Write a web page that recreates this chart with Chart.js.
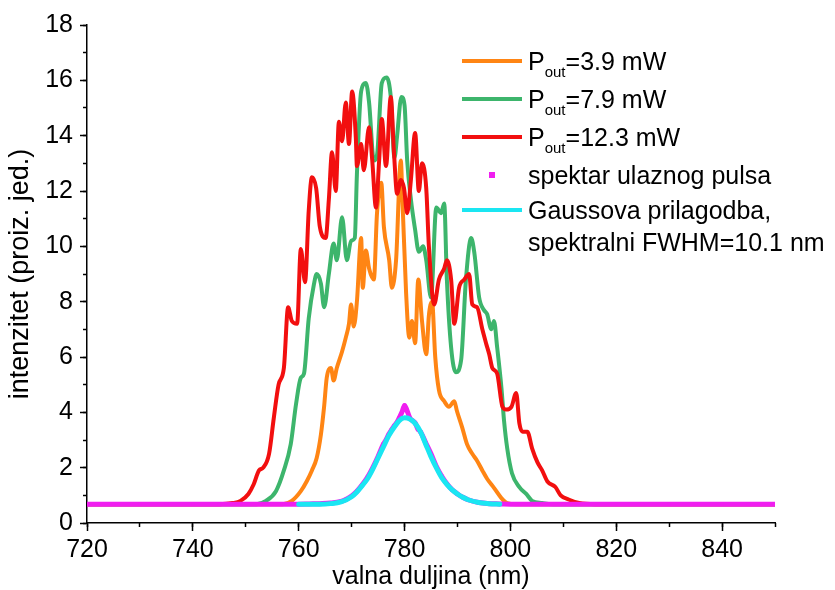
<!DOCTYPE html>
<html>
<head>
<meta charset="utf-8">
<script src="https://cdn.jsdelivr.net/npm/chart.js@4.4.1/dist/chart.umd.min.js"></script>
<style>
  html, body { margin: 0; padding: 0; background: #fff; }
  #wrap { position: relative; width: 835px; height: 590px; overflow: hidden; }
  #legend { position: absolute; left: 462px; top: 42px; font-family: 'Liberation Sans', Arial, sans-serif; font-size: 25px; color: #000; }
  .item { position: relative; padding-left: 66px; line-height: 38px; height: 38px; white-space: nowrap; }
  .item.multi { line-height: 32px; height: 64px; }
  .sw { position: absolute; left: 0; }
  sub { font-size: 15px; vertical-align: -7px; line-height: 0; }
</style>
</head>
<body>
<div id="wrap">
  <canvas id="c" width="835" height="590"></canvas>
  <div id="legend"></div>
</div>
<script>
// ---- data (wavelength nm, intensity a.u.) ----
const seriesLabels = ['P_out=3.9 mW', 'P_out=7.9 mW', 'P_out=12.3 mW', 'spektar ulaznog pulsa', 'Gaussova prilagodba,\nspektralni FWHM=10.1 nm'];
const xTickValues = [720, 740, 760, 780, 800, 820, 840];
const yTickValues = [0, 2, 4, 6, 8, 10, 12, 14, 16, 18];

const orange = [[720,0.68],[757,0.68],[758.7,0.8],[760.4,1.15],[761.5,1.5],[762.5,1.9],[763.4,2.35],[764.2,3.2],[764.8,4.2],[765.3,5.25],[766.1,5.6],[766.6,5.15],[767.2,5.6],[768.2,6.2],[768.9,6.7],[769.5,7.2],[769.9,7.9],[770.4,7.1],[771.0,8.0],[771.8,10.3],[772.1,8.5],[772.7,9.85],[773.3,9.2],[774.2,8.8],[774.8,11.2],[775.6,12.3],[776.1,10.7],[777.1,9.5],[777.6,8.5],[778.4,9.5],[779.3,13.1],[779.6,11.7],[780.3,8.3],[780.9,6.7],[781.4,7.3],[782.0,6.5],[782.6,8.8],[783.3,7.3],[784.1,6.1],[784.6,7.5],[785.2,8.0],[785.8,6.0],[786.5,4.8],[787.5,4.4],[788.4,4.2],[789.4,4.4],[789.9,4.05],[790.9,3.45],[791.8,2.85],[792.8,2.5],[793.7,2.25],[794.7,1.9],[795.6,1.6],[796.9,1.27],[798.3,0.9],[799.4,0.72],[801,0.68],[850,0.68]];

const green = [[720,0.68],[752,0.68],[753.8,0.8],[755.7,1.15],[757.2,1.9],[758.5,2.85],[759.5,4.3],[760.4,5.25],[761.0,5.4],[761.9,7.4],[762.9,8.65],[763.4,9.0],[764.2,8.65],[764.8,7.8],[765.7,9.0],[766.6,10.1],[767.2,9.5],[768.2,11.05],[769.1,9.5],[769.9,10.2],[770.6,10.3],[771.0,12.6],[771.8,15.6],[772.7,15.9],[773.3,15.2],[774.2,13.1],[774.8,13.3],[775.7,15.9],[776.6,16.1],[777.4,15.4],[778.1,13.2],[778.6,14.0],[779.4,15.4],[780.0,15.1],[780.5,13.1],[781.2,11.7],[782.0,10.6],[782.7,9.8],[783.5,10.0],[784.1,9.5],[785.0,8.15],[786.0,11.4],[786.9,11.2],[787.5,11.55],[788.0,8.8],[788.8,6.35],[789.7,5.45],[790.7,5.9],[791.6,8.8],[792.6,10.3],[793.2,9.75],[794.1,8.15],[795.0,7.7],[795.6,7.55],[796.4,7.0],[796.9,7.3],[797.5,6.35],[798.3,4.9],[798.8,3.7],[799.4,2.7],[800.3,1.8],[801.7,1.3],[803.0,1.05],[804.1,0.8],[806.0,0.72],[808,0.68],[850,0.68]];

const red = [[720,0.68],[745,0.68],[747.5,0.72],[749,0.8],[750.5,1.05],[751.5,1.4],[752.5,1.9],[753.3,2.0],[754.4,2.5],[755.3,3.8],[756.2,5.0],[757.2,5.6],[758.0,7.8],[758.7,7.3],[759.7,7.2],[760.4,9.9],[761.2,8.7],[761.9,11.3],[762.5,12.5],[763.3,12.1],[764.0,10.7],[765.1,10.3],[765.7,11.7],[766.3,13.4],[767.0,12.0],[767.6,14.5],[768.2,13.8],[768.9,15.2],[769.5,13.7],[770.1,15.6],[770.8,13.9],[771.0,12.9],[771.8,13.7],[772.3,12.75],[773.3,14.3],[773.9,13.1],[774.6,11.4],[775.2,13.1],[775.7,14.6],[776.5,12.9],[777.4,15.4],[778.0,13.4],[778.6,11.9],[779.3,12.4],[779.9,12.1],[780.5,11.2],[781.2,12.4],[782.0,14.1],[782.7,12.0],[783.3,13.0],[784.1,12.1],[784.6,10.0],[785.6,7.9],[786.5,8.8],[787.5,9.2],[788.0,9.5],[788.8,8.8],[789.4,7.2],[790.3,8.5],[791.3,8.8],[792.2,9.0],[792.8,7.9],[793.7,7.8],[794.7,7.0],[795.4,6.5],[796.0,6.1],[796.6,5.6],[797.5,5.4],[798.5,4.2],[799.2,4.1],[800.2,4.2],[801.1,4.7],[801.7,3.6],[802.3,3.3],[803.2,3.3],[804.1,2.7],[805.1,2.2],[806.0,1.9],[807.0,1.5],[808.5,1.3],[809.5,1.0],[811,0.85],[813,0.72],[816,0.68],[850,0.68]];

const inputPulse = [[720,0.68],[725,0.68],[730,0.68],[735,0.68],[740,0.68],[745,0.68],[750,0.68],[755,0.68],[760,0.68],[762,0.69],[764,0.7],[766,0.72],[768,0.78],[769,0.86],[770,0.98],[771,1.15],[772,1.38],[773,1.65],[774,2.0],[775,2.4],[776,2.85],[776.5,3.0],[777,3.2],[777.5,3.35],[778,3.5],[778.5,3.62],[779,3.8],[779.5,4.0],[780,4.25],[780.5,4.05],[781,3.8],[781.5,3.7],[782,3.62],[782.5,3.4],[783,3.3],[784,2.9],[785,2.5],[786,2.05],[787,1.7],[788,1.42],[789,1.2],[790,1.05],[791,0.93],[792,0.84],[794,0.74],[796,0.7],[798,0.69],[800,0.68],[805,0.68],[810,0.68],[815,0.68],[820,0.68],[825,0.68],[830,0.68],[835,0.68],[840,0.68],[845,0.68],[850,0.68]];

const gaussFit = [[760,0.68],[764,0.68],[766,0.7],[768,0.76],[770,0.95],[771,1.12],[772,1.35],[773,1.6],[774,1.95],[775,2.35],[776,2.75],[777,3.15],[778,3.45],[779,3.7],[780,3.8],[781,3.76],[782,3.6],[783,3.3],[784,2.85],[785,2.4],[786,2.0],[787,1.65],[788,1.4],[789,1.2],[790,1.05],[791,0.93],[792,0.84],[794,0.74],[796,0.7],[798,0.68]];

const colors = ['#FF8514', '#3DB56C', '#F20F0F', '#F01EF0', '#1AE6F2'];

const toXY = arr => arr.map(p => ({x: p[0], y: p[1]}));
const FONT = "'Liberation Sans', Arial, sans-serif";
Chart.defaults.font.family = FONT;
Chart.defaults.color = '#000';

const lineDs = (i, data, order, width) => ({
  label: seriesLabels[i], data: toXY(data), showLine: true, borderColor: colors[i], backgroundColor: colors[i],
  borderWidth: width, pointRadius: 0, cubicInterpolationMode: 'monotone', borderJoinStyle: 'round', borderCapStyle: 'round',
  order: order, legendKind: 'line'
});

const datasets = [
  lineDs(0, orange, 5, 4),
  lineDs(1, green, 4, 4),
  lineDs(2, red, 3, 4),
  { label: seriesLabels[3], data: toXY(inputPulse), showLine: true, borderColor: colors[3], backgroundColor: colors[3],
    borderWidth: 5, pointStyle: 'rect', pointRadius: 2.5, pointBorderWidth: 0, cubicInterpolationMode: 'monotone',
    order: 2, legendKind: 'point' },
  lineDs(4, gaussFit, 1, 5)
];

const htmlLegend = {
  id: 'htmlLegend',
  afterUpdate(chart) {
    const box = document.getElementById('legend');
    box.innerHTML = '';
    chart.data.datasets.forEach(ds => {
      const lines = ds.label.split('\n');
      const item = document.createElement('div');
      item.className = 'item' + (lines.length > 1 ? ' multi' : '');
      const sw = document.createElement('div');
      sw.className = 'sw';
      const lh = lines.length > 1 ? 32 : 38;
      if (ds.legendKind === 'point') {
        sw.style.cssText = `left:27px;top:${lh/2 - 3}px;width:6px;height:6px;background:${ds.borderColor}`;
      } else {
        sw.style.cssText = `left:0;top:${lh/2 - 2}px;width:60px;height:4px;background:${ds.borderColor}`;
      }
      item.appendChild(sw);
      lines.forEach((t, k) => {
        if (k > 0) item.appendChild(document.createElement('br'));
        const parts = t.split('_out');
        if (parts.length > 1) {
          item.appendChild(document.createTextNode(parts[0]));
          const s = document.createElement('sub'); s.textContent = 'out';
          item.appendChild(s);
          item.appendChild(document.createTextNode(parts[1]));
        } else {
          item.appendChild(document.createTextNode(t));
        }
      });
      box.appendChild(item);
    });
  }
};

const axisFont = { family: FONT, size: 25 };

new Chart(document.getElementById('c'), {
  type: 'scatter',
  data: { datasets },
  plugins: [htmlLegend],
  options: {
    responsive: false,
    animation: false,
    devicePixelRatio: 1,
    layout: { padding: { top: 25, right: 60, bottom: 0, left: 0 } },
    plugins: { legend: { display: false }, tooltip: { enabled: false } },
    scales: {
      x: {
        type: 'linear', position: 'bottom', min: 720, max: 850, weight: 1,
        afterBuildTicks: s => { s.ticks = xTickValues.map(v => ({ value: v })); },
        ticks: { font: axisFont, color: '#000', padding: 4, maxRotation: 0, autoSkip: false },
        grid: { drawOnChartArea: false, tickLength: 8, tickColor: '#000', tickWidth: 1.5 },
        border: { color: '#000', width: 1.5 },
        title: { display: true, text: 'valna duljina (nm)', font: { family: FONT, size: 25, lineHeight: 1 }, color: '#000', padding: { top: 0, bottom: 0 } },
        afterFit: s => { s.height = 67; }
      },
      xMinor: {
        type: 'linear', position: 'bottom', min: 720, max: 850, weight: 0,
        ticks: { display: false, stepSize: 10 },
        grid: { drawOnChartArea: false, tickLength: 4, tickColor: '#000', tickWidth: 1.5 },
        border: { display: false },
        afterFit: s => { s.height = 0; }
      },
      y: {
        type: 'linear', position: 'left', min: 0, max: 18, weight: 1,
        afterBuildTicks: s => { s.ticks = yTickValues.map(v => ({ value: v })); },
        ticks: { font: axisFont, color: '#000', padding: 7 },
        grid: { drawOnChartArea: false, tickLength: 7, tickColor: '#000', tickWidth: 1.5 },
        border: { color: '#000', width: 1.5 },
        title: { display: true, text: 'intenzitet (proiz. jed.)', font: { family: FONT, size: 27, lineHeight: 1.2 }, color: '#000', padding: { top: 4, bottom: 0 } },
        afterFit: s => { s.width = 87; }
      },
      yMinor: {
        type: 'linear', position: 'left', min: 0, max: 18, weight: 0,
        ticks: { display: false, stepSize: 1 },
        grid: { drawOnChartArea: false, tickLength: 4, tickColor: '#000', tickWidth: 1.5 },
        border: { display: false },
        afterFit: s => { s.width = 0; }
      }
    }
  }
});
</script>
</body>
</html>
